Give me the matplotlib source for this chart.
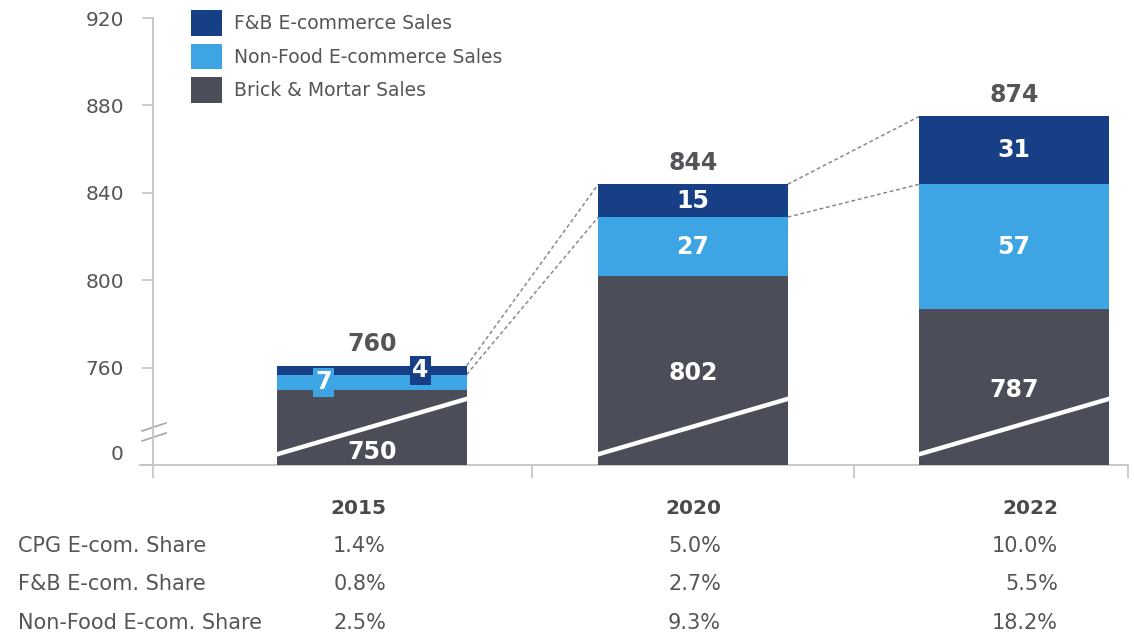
import numpy as np
import matplotlib
matplotlib.use("Agg")
import matplotlib.pyplot as plt
import matplotlib.transforms as mtransforms
from matplotlib.patches import Rectangle

# ---- data -------------------------------------------------------------
years = ["2015", "2020", "2022"]
brick_mortar = [750, 802, 787]
non_food_ecom = [7, 27, 57]
fb_ecom = [4, 15, 31]
totals = [760, 844, 874]
series_names = ["F&B E-commerce Sales", "Non-Food E-commerce Sales", "Brick & Mortar Sales"]
y_ticks = [0, 760, 800, 840, 880, 920]

share_rows = ["CPG E-com. Share", "F&B E-com. Share", "Non-Food E-com. Share"]
cpg_share = [1.4, 5.0, 10.0]
fb_share = [0.8, 2.7, 5.5]
non_food_share = [2.5, 9.3, 18.2]

# ---- style ------------------------------------------------------------
FB_COLOR = "#173f86"
NF_COLOR = "#3da5e4"
BM_COLOR = "#4b4e58"
TEXT = "#555559"
AXIS = "#c4c4c4"
plt.rcParams["font.family"] = ["DejaVu Sans"]
VAL_SIZE = 17

W, H = 1134, 640
fig = plt.figure(figsize=(W / 100, H / 100), dpi=100)
ax = fig.add_axes([153 / W, (H - 465) / H, (1128 - 153) / W, (465 - 18) / H])

# broken value axis: everything below BREAK is squeezed into a short band
BREAK = 740.0
K = 0.0329


def fwd(v):
    v = np.asarray(v, dtype=float)
    return np.where(v >= BREAK, v, BREAK - (BREAK - v) * K)


def inv(f):
    f = np.asarray(f, dtype=float)
    return np.where(f >= BREAK, f, BREAK - (BREAK - f) / K)


ax.set_yscale("function", functions=(fwd, inv))
ax.set_ylim(0, 920)
x0, x1 = -0.682, 2.355
ax.set_xlim(x0, x1)

x = np.arange(len(years))
width = 0.59
bm = np.array(brick_mortar, float)
nf = np.array(non_food_ecom, float)
fb = np.array(fb_ecom, float)

ax.bar(x, bm, width=width, color=BM_COLOR, zorder=2)
ax.bar(x, nf, bottom=bm, width=width, color=NF_COLOR, zorder=2)
ax.bar(x, fb, bottom=bm + nf, width=width, color=FB_COLOR, zorder=2)

# axis styling
for s in ["top", "right", "bottom"]:
    ax.spines[s].set_visible(False)
ax.spines["left"].set_color(AXIS)
ax.spines["left"].set_linewidth(1.3)
ax.set_yticks(y_ticks)
ax.set_yticklabels([str(t) for t in y_ticks])
ax.tick_params(axis="y", length=8, width=1.2, color=AXIS, labelcolor=TEXT,
               labelsize=14.5, pad=13)
ax.set_xticks([x0, 0.5, 1.5, x1])
ax.set_xticklabels([])
ax.tick_params(axis="x", length=9, width=1.2, color=AXIS)
# lift the "0" label onto its own band
for lbl in ax.get_yticklabels():
    if lbl.get_text() == "0":
        lbl.set_transform(lbl.get_transform() +
                          mtransforms.ScaledTranslation(0, 9 / 72, fig.dpi_scale_trans))

# baseline extending a little to the left of the value axis
ax.plot([-13 / 975, 1.0], [0, 0], transform=ax.transAxes, color=AXIS,
        lw=1.3, clip_on=False, zorder=1)

# break marks on the value axis
for dy in (0, 10):
    ax.plot([-11 / 975, 13 / 975],
            [(465 - 431 - dy) / 447, (465 - 423 - dy) / 447],
            transform=ax.transAxes, color="#a8a8a8", lw=1.2, clip_on=False)

# white slash across each bar marking the break
blend = mtransforms.blended_transform_factory(ax.transData, ax.transAxes)
for xi in x:
    ax.plot([xi - 0.305, xi + 0.315], [0.022, 0.152], transform=blend,
            color="white", lw=3.2, solid_capstyle="butt", zorder=3, clip_on=False)

# dashed connectors between consecutive F&B segments
tops = bm + nf + fb
for i in range(len(x) - 1):
    for off in (0, 1):
        y_a = tops[i] - off * fb[i]
        y_b = tops[i + 1] - off * fb[i + 1]
        ax.plot([x[i] + width / 2, x[i + 1] - width / 2], [y_a, y_b],
                ls=(0, (2.5, 1.8)), color="#8a8a8a", lw=1.1, zorder=1)

# totals above bars
for xi, top, tot in zip(x, tops, totals):
    ax.annotate(f"{tot}", xy=(xi, top), xytext=(0, 7), textcoords="offset points",
                ha="center", va="bottom", fontsize=VAL_SIZE, fontweight="bold", color=TEXT)

# segment labels
val_kw = dict(ha="center", va="center", fontsize=VAL_SIZE, fontweight="bold",
              color="white", zorder=4)
for i, xi in enumerate(x):
    if fb[i] < 10:
        ax.text(xi - 0.15, bm[i] + nf[i] / 2, f"{non_food_ecom[i]}",
                bbox=dict(boxstyle="square,pad=0.1", fc=NF_COLOR, ec="none"), **val_kw)
        ax.text(xi + 0.15, bm[i] + nf[i] + fb[i] / 2, f"{fb_ecom[i]}",
                bbox=dict(boxstyle="square,pad=0.1", fc=FB_COLOR, ec="none"), **val_kw)
        ax.text(xi, 0.03, f"{brick_mortar[i]}", transform=blend, **val_kw)
    else:
        ax.text(xi, bm[i] + nf[i] / 2, f"{non_food_ecom[i]}", **val_kw)
        ax.text(xi, bm[i] + nf[i] + fb[i] / 2, f"{fb_ecom[i]}", **val_kw)
        mid = float(inv((fwd(bm[i]) + fwd(0)) / 2))
        ax.annotate(f"{brick_mortar[i]}", xy=(xi, mid), xytext=(0, -2),
                    textcoords="offset points", **val_kw)

# legend
handles = [Rectangle((0, 0), 1, 1, fc=c) for c in (FB_COLOR, NF_COLOR, BM_COLOR)]
LEG_SIZE = 13.5
leg = fig.legend(handles, series_names, loc="upper left",
                 bbox_to_anchor=(178 / W, 1 + 3 / H), frameon=False,
                 fontsize=LEG_SIZE, labelcolor=TEXT, handlelength=1.65,
                 handleheight=1.75, handletextpad=0.62, labelspacing=0.4,
                 borderpad=0.2)

# year labels and share table under the chart
col_right = [386, 721, 1058]
fig_x = lambda px: px / W
fig_y = lambda py: 1 - py / H
for px, yr in zip(col_right, years):
    fig.text(fig_x(px), fig_y(508), yr, ha="right", va="center", fontsize=14.5,
             fontweight="bold", color="#4a4a4e")

share_table = [cpg_share, fb_share, non_food_share]
row_y = [546, 584, 623]
for name, vals, py in zip(share_rows, share_table, row_y):
    fig.text(fig_x(18), fig_y(py), name, ha="left", va="center", fontsize=15,
             color=TEXT)
    for px, v in zip(col_right, vals):
        fig.text(fig_x(px), fig_y(py), f"{v:.1f}%", ha="right", va="center",
                 fontsize=15, color=TEXT)

fig.savefig("out.png", dpi=100, facecolor="white")
